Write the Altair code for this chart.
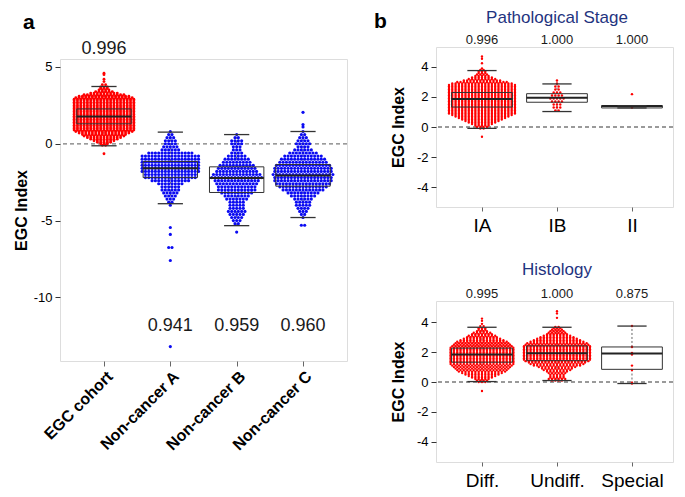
import json
import altair as alt
import pandas as pd

FONT = "Liberation Sans"
RED = "#ff0000"
BLUE = "#0b0bf2"
NAVY = "#1f3480"

# ---------------- panel a ----------------
a_groups = ["EGC cohort", "Non-cancer A", "Non-cancer B", "Non-cancer C"]
a_auc = ["0.996", "0.941", "0.959", "0.960"]
# beeswarm rows: (EGC index level, number of dots in that row)
egc_rows = [
    (4.6, 1), (4.5, 1), (4.2, 1), (4.05, 1), (3.85, 2), (3.7, 3), (3.6, 3), (3.5, 4), (3.4, 6), (3.3, 9),
    (3.2, 13), (3.1, 16), (3.0, 18), (2.9, 19), (2.8, 19), (2.7, 19), (2.6, 19), (2.5, 19), (2.4, 19), (2.3, 19),
    (2.2, 19), (2.1, 19), (2.0, 19), (1.9, 19), (1.8, 19), (1.7, 19), (1.6, 19), (1.5, 19), (1.4, 19), (1.3, 19),
    (1.2, 19), (1.1, 19), (1.0, 19), (0.9, 19), (0.8, 18), (0.7, 16), (0.6, 14), (0.5, 13), (0.4, 11), (0.3, 9),
    (0.2, 7), (0.1, 5), (0.0, 3), (-0.1, 2), (-0.65, 1)]
ncA_rows = [
    (0.8, 1), (0.6, 2), (0.4, 3), (0.2, 4), (0.0, 4), (-0.2, 5), (-0.4, 6), (-0.6, 14), (-0.8, 18), (-1.0, 18),
    (-1.2, 18), (-1.4, 18), (-1.6, 18), (-1.8, 18), (-2.0, 16), (-2.2, 16), (-2.4, 12), (-2.6, 8), (-2.8, 6), (-3.0, 6),
    (-3.2, 5), (-3.4, 4), (-3.6, 3), (-3.8, 2), (-4.0, 1), (-5.45, 1), (-5.9, 1), (-6.75, 2), (-7.6, 1), (-13.2, 1)]
ncB_rows = [
    (0.6, 1), (0.4, 2), (0.2, 4), (0.0, 4), (-0.2, 3), (-0.4, 3), (-0.6, 4), (-0.8, 6), (-1.0, 8), (-1.2, 9),
    (-1.4, 11), (-1.6, 12), (-1.8, 13), (-2.0, 15), (-2.2, 16), (-2.4, 14), (-2.6, 13), (-2.8, 12), (-3.0, 12), (-3.2, 10),
    (-3.4, 8), (-3.6, 7), (-3.8, 5), (-4.0, 5), (-4.2, 5), (-4.4, 6), (-4.6, 5), (-4.8, 4), (-5.0, 3), (-5.2, 2),
    (-5.75, 1)]
ncC_rows = [
    (2.05, 1), (1.25, 1), (1.1, 1), (0.8, 1), (0.6, 2), (0.4, 3), (0.2, 4), (0.0, 5), (-0.2, 4), (-0.4, 6),
    (-0.6, 9), (-0.8, 12), (-1.0, 14), (-1.2, 15), (-1.4, 17), (-1.6, 18), (-1.8, 18), (-2.0, 19), (-2.2, 18), (-2.4, 18),
    (-2.6, 17), (-2.8, 15), (-3.0, 13), (-3.2, 10), (-3.4, 8), (-3.6, 6), (-3.8, 5), (-4.0, 5), (-4.2, 4), (-4.4, 3),
    (-4.6, 2), (-4.8, 1), (-5.3, 2)]
a_lo = [-0.13, -3.9, -5.33, -4.8]
a_q1 = [1.30, -2.2, -3.17, -2.76]
a_med = [1.77, -1.6, -2.22, -2.06]
a_q3 = [2.27, -1.15, -1.5, -1.35]
a_hi = [3.73, 0.76, 0.6, 0.8]

# ---------------- panel b (stage) ----------------
s_groups = ["IA", "IB", "II"]
s_auc = ["0.996", "1.000", "1.000"]
ia_rows = [
    (4.7, 1), (4.55, 1), (4.25, 1), (3.9, 1), (3.8, 2), (3.7, 3), (3.6, 3), (3.5, 4), (3.4, 5), (3.3, 7),
    (3.2, 9), (3.1, 12), (3.0, 16), (2.9, 19), (2.8, 21), (2.7, 21), (2.6, 21), (2.5, 21), (2.4, 21), (2.3, 21),
    (2.2, 21), (2.1, 21), (2.0, 21), (1.9, 21), (1.8, 21), (1.7, 21), (1.6, 21), (1.5, 21), (1.4, 21), (1.3, 21),
    (1.2, 21), (1.1, 21), (1.0, 21), (0.9, 21), (0.8, 19), (0.7, 17), (0.6, 15), (0.5, 13), (0.4, 11), (0.3, 9),
    (0.2, 7), (0.1, 5), (0.0, 4), (-0.1, 2), (-0.65, 1)]
ib_rows = [(3.1, 1), (2.9, 1), (2.7, 2), (2.5, 2), (2.3, 3), (2.1, 4), (1.9, 5), (1.7, 4), (1.5, 3), (1.3, 3), (1.1, 2)]
ii_rows = [(2.19, 1), (1.38, 1), (1.30, 1)]
s_lo = [-0.09, 1.03, 1.27]
s_q1 = [1.33, 1.65, 1.27]
s_med = [1.87, 1.95, 1.40]
s_q3 = [2.30, 2.22, 1.42]
s_hi = [3.76, 2.87, 1.42]

# ---------------- panel b (histology) ----------------
h_groups = ["Diff.", "Undiff.", "Special"]
h_auc = ["0.995", "1.000", "0.875"]
diff_rows = [
    (4.25, 1), (4.1, 1), (3.9, 1), (3.75, 2), (3.6, 3), (3.5, 3), (3.4, 4), (3.3, 6), (3.2, 7), (3.1, 9),
    (3.0, 10), (2.9, 12), (2.8, 14), (2.7, 16), (2.6, 17), (2.5, 18), (2.4, 19), (2.3, 20), (2.2, 20), (2.1, 20),
    (2.0, 20), (1.9, 20), (1.8, 20), (1.7, 20), (1.6, 20), (1.5, 20), (1.4, 20), (1.3, 20), (1.2, 20), (1.1, 19),
    (1.0, 18), (0.9, 17), (0.8, 16), (0.7, 15), (0.6, 13), (0.5, 11), (0.4, 9), (0.3, 7), (0.2, 5), (0.1, 4),
    (0.0, 3), (-0.6, 1)]
undiff_rows = [
    (4.75, 1), (4.6, 1), (4.3, 1), (3.7, 2), (3.6, 3), (3.5, 4), (3.4, 5), (3.3, 6), (3.2, 7), (3.1, 9),
    (3.0, 11), (2.9, 13), (2.8, 15), (2.7, 17), (2.6, 19), (2.5, 20), (2.4, 21), (2.3, 21), (2.2, 21), (2.1, 21),
    (2.0, 21), (1.9, 21), (1.8, 21), (1.7, 21), (1.6, 21), (1.5, 21), (1.4, 20), (1.3, 18), (1.2, 17), (1.1, 15),
    (1.0, 12), (0.9, 10), (0.8, 9), (0.7, 7), (0.6, 6), (0.5, 5), (0.4, 5), (0.3, 5), (0.2, 6), (0.1, 4)]
special_rows = [(3.75, 1), (2.35, 1), (1.95, 1), (1.85, 1), (1.1, 1), (0.8, 1), (-0.05, 1), (-0.1, 1)]
h_lo = [0.03, 0.10, -0.10]
h_q1 = [1.33, 1.43, 0.85]
h_med = [1.84, 1.93, 1.91]
h_q3 = [2.27, 2.42, 2.35]
h_hi = [3.67, 3.67, 3.75]


def swarm(center, rows, spacing, color, size):
    rec = []
    for v, n in rows:
        for k in range(n):
            rec.append({"x": center + (k - (n - 1) / 2) * spacing, "y": v, "c": color, "s": size})
    return rec


def box_frame(lo, q1, med, q3, hi, half=0.41, cap=0.19):
    pos = list(range(1, len(lo) + 1))
    return pd.DataFrame({
        "pos": pos, "lo": lo, "q1": q1, "med": med, "q3": q3, "hi": hi,
        "xl": [p - half for p in pos], "xr": [p + half for p in pos],
        "cl": [p - cap for p in pos], "cr": [p + cap for p in pos]})


def panel(points, boxes, auc, auc_y, xdom, ydom, w, h, groups, yvals,
          xaxis_kw, title_pad, auc_size, extra=None):
    xs = alt.Scale(domain=xdom, nice=False, zero=False)
    ys = alt.Scale(domain=ydom, nice=False, zero=False)
    xaxis = alt.Axis(values=list(range(1, len(groups) + 1)),
                     labelExpr=json.dumps(groups) + "[datum.value - 1]",
                     title=None, grid=False, domain=False, labelFont=FONT,
                     labelOverlap=False, labelColor="black", tickColor="#666", **xaxis_kw)
    yaxis = alt.Axis(values=yvals, labelExpr="'' + datum.value",
                     title="EGC Index", grid=False, domain=False,
                     labelFont=FONT, labelFontSize=13, labelColor="black",
                     tickSize=5, tickColor="#333", labelPadding=3,
                     titleFont=FONT, titleFontSize=16, titleFontWeight="bold",
                     titleColor="black", titlePadding=title_pad)

    def X(f):
        return alt.X(f"{f}:Q", scale=xs, axis=xaxis)

    def Y(f):
        return alt.Y(f"{f}:Q", scale=ys, axis=yaxis)

    zero = alt.Chart(pd.DataFrame({"z": [0]})).mark_rule(
        color="#7a7a7a", strokeDash=[4, 3], strokeWidth=1.3).encode(y=Y("z"))
    wh_top = alt.Chart(boxes).mark_rule(color="#666", strokeDash=[2, 2], strokeWidth=1).encode(
        x=X("pos"), y=Y("q3"), y2="hi")
    wh_bot = alt.Chart(boxes).mark_rule(color="#666", strokeDash=[2, 2], strokeWidth=1).encode(
        x=X("pos"), y=Y("lo"), y2="q1")
    pts = alt.Chart(points).mark_circle(opacity=1).encode(
        x=X("x"), y=Y("y"), color=alt.Color("c:N", scale=None),
        size=alt.Size("s:Q", scale=None))
    box = alt.Chart(boxes).mark_rect(fillOpacity=0, stroke="#333", strokeWidth=1).encode(
        x=X("xl"), x2="xr", y=Y("q1"), y2="q3")
    med = alt.Chart(boxes).mark_rule(color="#222", strokeWidth=2).encode(
        x=X("xl"), x2="xr", y=Y("med"))
    cap_lo = alt.Chart(boxes).mark_rule(color="#333", strokeWidth=1.3).encode(
        x=X("cl"), x2="cr", y=Y("lo"))
    cap_hi = alt.Chart(boxes).mark_rule(color="#333", strokeWidth=1.3).encode(
        x=X("cl"), x2="cr", y=Y("hi"))
    auc_df = pd.DataFrame({"pos": list(range(1, len(auc) + 1)), "t": auc, "ty": auc_y})
    txt = alt.Chart(auc_df).mark_text(font=FONT, fontSize=auc_size, color="#1a1a1a",
                                      baseline="middle", align="center").encode(
        x=X("pos"), y=Y("ty"), text="t:N")
    layers = [zero, wh_top, wh_bot, pts, box, med, cap_lo, cap_hi, txt]
    if extra is not None:
        for df, kw in extra:
            layers.append(alt.Chart(df).mark_text(font=FONT, **kw).encode(
                x=X("x"), y=Y("y"), text="t:N"))
    return alt.layer(*layers).properties(width=w, height=h)


# ---- build panel a ----
a_pts = []
a_pts += swarm(1, egc_rows, 0.05, RED, 8)
a_pts += swarm(2, ncA_rows, 0.05, BLUE, 10)
a_pts += swarm(3, ncB_rows, 0.05, BLUE, 10)
a_pts += swarm(4, ncC_rows, 0.05, BLUE, 10)
a_chart = panel(
    pd.DataFrame(a_pts), box_frame(a_lo, a_q1, a_med, a_q3, a_hi),
    a_auc, [6.17, -11.86, -11.86, -11.86], [0.337, 4.663], [-14.14, 5.52], 287, 302,
    a_groups, [5, 0, -5, -10],
    dict(labelAngle=-45, labelFontSize=16, labelFontWeight="bold", tickSize=5, labelPadding=2),
    4, 18,
    extra=[(pd.DataFrame({"x": [-0.22], "y": [7.45], "t": ["a"]}),
            dict(fontSize=21, fontWeight="bold", align="left", baseline="alphabetic", color="black"))])

# ---- build panel b (stage) ----
s_pts = []
s_pts += swarm(1, ia_rows, 0.044, RED, 5.5)
s_pts += swarm(2, ib_rows, 0.044, RED, 6)
s_pts += swarm(3, ii_rows, 0.044, RED, 6)
b1 = panel(
    pd.DataFrame(s_pts), box_frame(s_lo, s_q1, s_med, s_q3, s_hi, half=0.405, cap=0.195),
    s_auc, [5.82] * 3, [0.387, 3.547], [-5.33, 5.33], 237, 160,
    s_groups, [4, 2, 0, -2, -4],
    dict(labelAngle=0, labelFontSize=19, tickSize=4, labelPadding=5),
    10, 13,
    extra=[(pd.DataFrame({"x": [2], "y": [6.9], "t": ["Pathological Stage"]}),
            dict(fontSize=17, align="center", baseline="alphabetic", color=NAVY)),
           (pd.DataFrame({"x": [-0.44], "y": [6.58], "t": ["b"]}),
            dict(fontSize=21, fontWeight="bold", align="left", baseline="alphabetic", color="black"))])

# ---- build panel b (histology) ----
h_pts = []
h_pts += swarm(1, diff_rows, 0.044, RED, 5.5)
h_pts += swarm(2, undiff_rows, 0.044, RED, 5.5)
h_pts += swarm(3, special_rows, 0.044, RED, 6)
b2 = panel(
    pd.DataFrame(h_pts), box_frame(h_lo, h_q1, h_med, h_q3, h_hi, half=0.405, cap=0.195),
    h_auc, [5.91] * 3, [0.387, 3.547], [-5.36, 5.43], 237, 161,
    h_groups, [4, 2, 0, -2, -4],
    dict(labelAngle=0, labelFontSize=19, tickSize=4, labelPadding=5),
    10, 13,
    extra=[(pd.DataFrame({"x": [2], "y": [7.17], "t": ["Histology"]}),
            dict(fontSize=17, align="center", baseline="alphabetic", color=NAVY))])

# thin invisible strip that pushes panel a's frame 12px below panel b's
spacer = alt.Chart(pd.DataFrame({"s": [0]})).mark_point(opacity=0).encode(
    x=alt.X("s:Q", axis=None), y=alt.Y("s:Q", axis=None)
).properties(width=287, height=1, view=alt.ViewBackground(stroke="transparent"))

left = alt.vconcat(spacer, a_chart, spacing=11, bounds="flush")
right = alt.vconcat(b1, b2, spacing=94, bounds="flush")

chart = alt.hconcat(left, right, spacing=24).properties(
    padding={"left": 4, "top": 0, "right": 0, "bottom": 0}
).configure_view(stroke="#555", strokeWidth=1.5).configure(background="white")

chart.save("out.html", embed_options={"renderer": "svg", "actions": False})
